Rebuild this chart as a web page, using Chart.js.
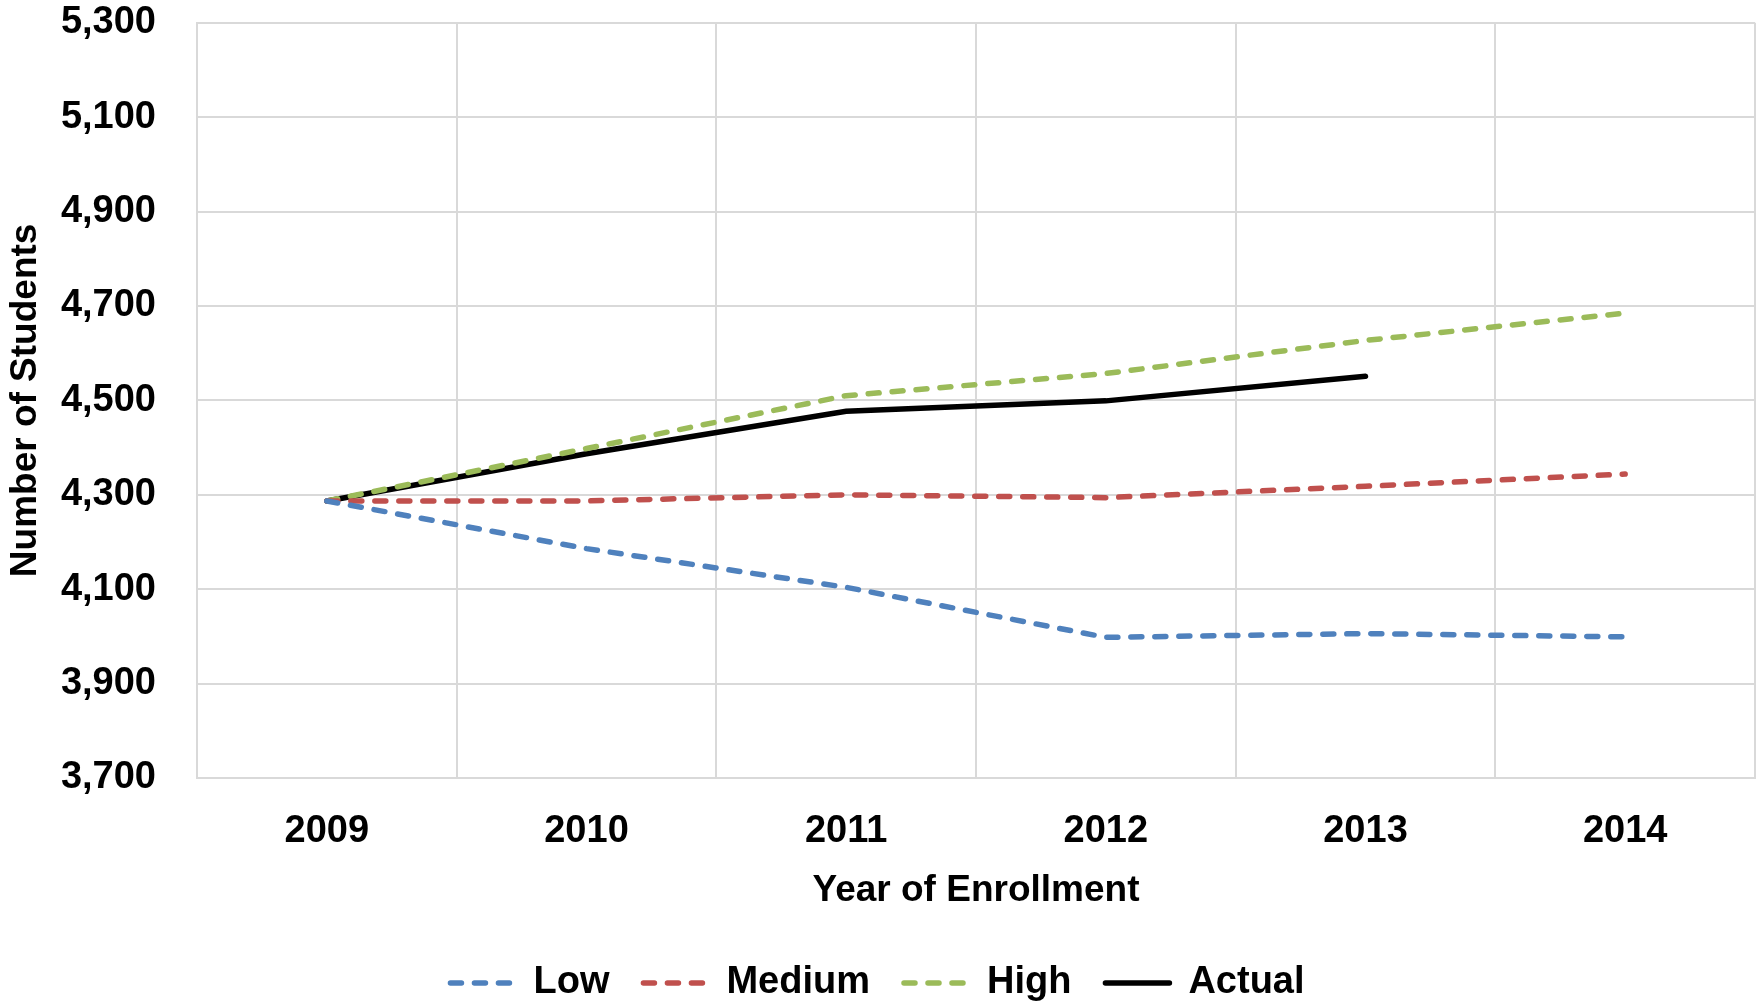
<!DOCTYPE html>
<html>
<head>
<meta charset="utf-8">
<script src="https://cdn.jsdelivr.net/npm/chart.js@4/dist/chart.umd.min.js"></script>
<style>
  html, body { margin: 0; padding: 0; background: #fff; }
  #wrap { width: 1763px; height: 1004px; }
</style>
</head>
<body>
<div id="wrap"><canvas id="myChart" width="1763" height="1004"></canvas></div>
<script>
const years = ['2009', '2010', '2011', '2012', '2013', '2014'];
const low = [4287, 4186, 4104, 3998, 4006, 3999];
const medium = [4287, 4287, 4300, 4294, 4318, 4344];
const high = [4287, 4398, 4510, 4557, 4627, 4685];
const actual = [4287, 4387, 4477, 4499, 4551, null];

const fontFamily = '"Liberation Sans", Arial, sans-serif';
const gridColor = '#d9d9d9';

function dashed(label, data, color) {
  return {
    label: label,
    data: data,
    borderColor: color,
    backgroundColor: color,
    borderWidth: 5.5,
    borderDash: [11, 13],
    borderCapStyle: 'round',
    pointRadius: 0,
    tension: 0
  };
}

const ctx = document.getElementById('myChart');
const chart = new Chart(ctx, {
  type: 'line',
  data: {
    labels: years,
    datasets: [
      dashed('Low', low, '#4f81bd'),
      dashed('Medium', medium, '#c0504d'),
      dashed('High', high, '#9bbb59'),
      {
        label: 'Actual',
        data: actual,
        borderColor: '#000000',
        backgroundColor: '#000000',
        borderWidth: 5.5,
        borderCapStyle: 'round',
        pointRadius: 0,
        tension: 0
      }
    ]
  },
  options: {
    responsive: false,
    animation: false,
    devicePixelRatio: 1,
    layout: { padding: { top: 0, right: 8, bottom: 0, left: 0 } },
    plugins: {
      tooltip: { enabled: false },
      legend: {
        position: 'bottom',
        maxHeight: 74,
        labels: {
          usePointStyle: true,
          pointStyle: 'line',
          pointStyleWidth: 64,
          color: '#000',
          padding: 34,
          font: { family: fontFamily, size: 38, weight: 'bold' },
          generateLabels: (c) => Chart.defaults.plugins.legend.labels.generateLabels(c).map((item) => {
            const ds = c.data.datasets[item.datasetIndex];
            item.lineDash = ds.borderDash || [];
            item.lineWidth = 5.5;
            item.lineCap = 'round';
            item.strokeStyle = ds.borderColor;
            item.fillStyle = ds.borderColor;
            return item;
          })
        }
      }
    },
    scales: {
      x: {
        offset: true,
        grid: { offset: true, color: gridColor, lineWidth: 2, drawTicks: false },
        border: { color: gridColor, width: 2 },
        ticks: {
          color: '#000',
          padding: 31,
          font: { family: fontFamily, size: 38, weight: 'bold' }
        },
        title: {
          display: true,
          text: 'Year of Enrollment',
          color: '#000',
          padding: { top: 17, bottom: 17 },
          font: { family: fontFamily, size: 37, weight: 'bold' }
        },
        afterFit: (scale) => { scale.height = 152; }
      },
      y: {
        min: 3700,
        max: 5300,
        grid: {
          color: gridColor,
          lineWidth: 2,
          drawTicks: true,
          tickLength: 41,
          tickColor: 'rgba(0,0,0,0)'
        },
        border: { color: gridColor, width: 2 },
        ticks: {
          stepSize: 200,
          color: '#000',
          padding: 0,
          font: { family: fontFamily, size: 38, weight: 'bold' },
          callback: (v) => v.toLocaleString('en-US')
        },
        title: {
          display: true,
          text: 'Number of Students',
          color: '#000',
          padding: { top: 4, bottom: 4 },
          font: { family: fontFamily, size: 37, weight: 'bold' }
        },
        afterFit: (scale) => { scale.width = 197; }
      }
    }
  }
});
</script>
</body>
</html>
